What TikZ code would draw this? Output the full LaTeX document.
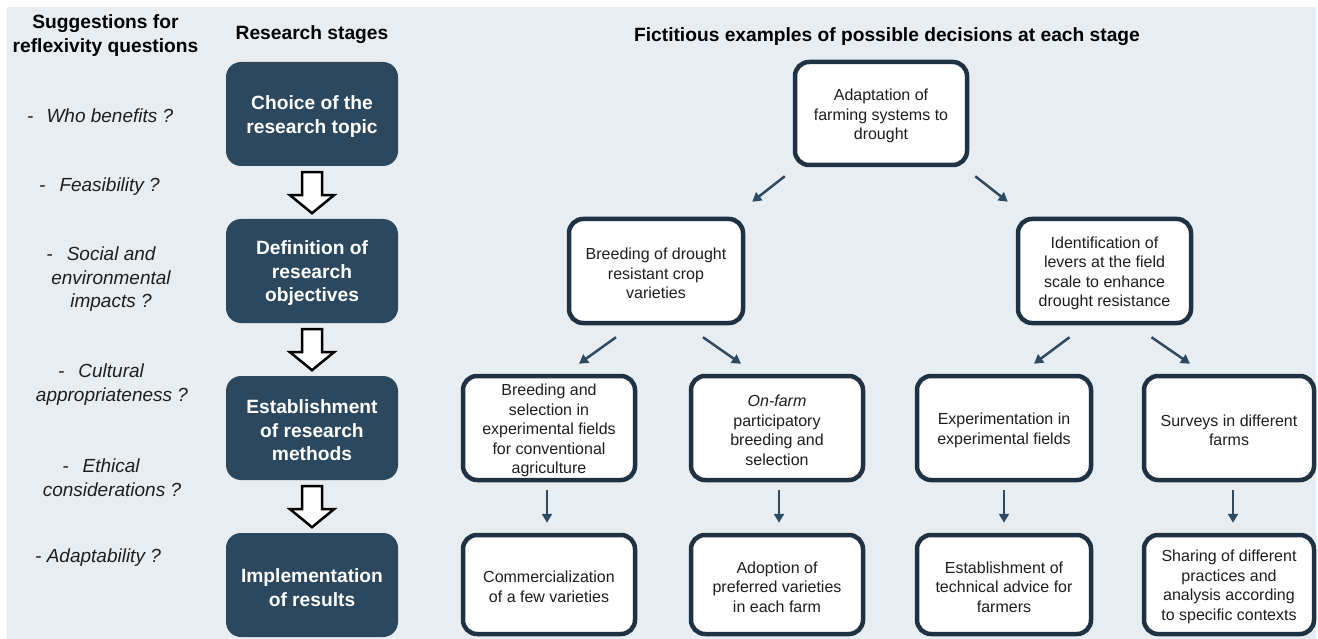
\documentclass[tikz,border=0pt]{standalone}
\usepackage{fontspec}
\setmainfont{Liberation Sans}
\usetikzlibrary{arrows.meta}
\definecolor{bgc}{RGB}{232,237,241}
\definecolor{navy}{RGB}{44,72,94}
\definecolor{edge}{RGB}{30,50,68}
\definecolor{arrc}{RGB}{46,75,99}
\definecolor{txt}{RGB}{30,30,30}
\newcommand\boxlabel[3]{\node[#1] (#2t) at ([shift={(0,2.5)}]#2.center) {#3};}
\begin{document}
\begin{tikzpicture}[x=1pt,y=-1pt,
  stagebox/.style={fill=navy, rounded corners=15pt, minimum width=172pt, minimum height=104pt, inner sep=0pt},
  stagetext/.style={align=center, text=white, inner sep=0pt, font=\fontsize{19.2}{23.5}\selectfont\bfseries},
  wbox/.style={draw=edge, fill=white, line width=4.5pt, rounded corners=14pt, minimum width=172pt, minimum height=103pt, inner sep=0pt},
  wtext/.style={align=center, text=txt, inner sep=0pt, font=\fontsize{16}{19.5}\selectfont},
  head/.style={align=center, font=\fontsize{19.2}{24}\selectfont\bfseries, text=black, inner sep=0pt},
  quest/.style={align=center, font=\fontsize{19}{23.5}\selectfont\itshape, text=txt, inner sep=0pt},
  conn/.style={draw=arrc, line width=2.5pt, -{Triangle[length=9pt,width=10pt]}},
  blockarr/.style={draw=black, fill=white, line width=2.5pt, line join=miter}
]
\useasboundingbox (0,0) rectangle (1318,639);
\fill[bgc] (7,7) rectangle (1316,639);

% headings
\node[head] (h1) at (105.5,36) {Suggestions for\\reflexivity questions};
\node[head] (h2) at (312,35) {Research stages};
\node[head] (h3) at (887,37) {Fictitious examples of possible decisions at each stage};

% questions
\node[quest, anchor=west] (q1) at (27,116) {-\hspace{13pt}Who benefits ?};
\node[quest, anchor=west] (q2) at (39,187) {-\hspace{14pt}Feasibility ?};
\node[quest] (q3) at (111,279.5) {-\hspace{14pt}Social and\hspace*{20pt}\\environmental\\impacts ?};
\node[quest] (q4) at (112,384.5) {-\hspace{14pt}Cultural\hspace*{22pt}\\appropriateness ?};
\node[quest] (q5) at (112,477.5) {-\hspace{14pt}Ethical\hspace*{22pt}\\considerations ?};
\node[quest, anchor=west] (q6) at (35,558) {- Adaptability ?};

% research stages
\node[stagebox] (s1) at (312,114) {};
\node[stagebox] (s2) at (312,271) {};
\node[stagebox] (s3) at (312,428) {};
\node[stagebox] (s4) at (312,585) {};
\boxlabel{stagetext}{s1}{Choice of the\\research topic}
\boxlabel{stagetext}{s2}{Definition of\\research\\objectives}
\boxlabel{stagetext}{s3}{Establishment\\of research\\methods}
\boxlabel{stagetext}{s4}{Implementation\\of results}

% block arrows between stages
\foreach \a/\b in {s1/s2, s2/s3, s3/s4}{
  \draw[blockarr] ([shift={(-10,6)}]\a.south) -- ++(0,23) -- ++(-12,0) -- ++(22,18) -- ++(22,-18) -- ++(-12,0) -- ++(0,-23) -- cycle;
}

% decision tree boxes
\node[wbox] (top) at (881,113.5) {};
\node[wbox, minimum width=174pt, minimum height=104pt] (b1) at (656,271) {};
\node[wbox, minimum width=173pt, minimum height=104pt] (b2) at (1104.5,271) {};
\node[wbox, minimum height=104pt] (c1) at (549,428) {};
\node[wbox, minimum height=104pt] (c2) at (777,428) {};
\node[wbox, minimum width=174pt, minimum height=104pt] (c3) at (1004,428) {};
\node[wbox, minimum width=170pt, minimum height=104pt] (c4) at (1229,428) {};
\node[wbox, minimum height=99pt] (d1) at (549,584.5) {};
\node[wbox, minimum height=99pt] (d2) at (777,584.5) {};
\node[wbox, minimum width=174pt, minimum height=99pt] (d3) at (1004,584.5) {};
\node[wbox, minimum width=170pt, minimum height=99pt] (d4) at (1229,584.5) {};

\boxlabel{wtext}{top}{Adaptation of\\farming systems to\\drought}
\boxlabel{wtext}{b1}{Breeding of drought\\resistant crop\\varieties}
\boxlabel{wtext}{b2}{Identification of\\levers at the field\\scale to enhance\\drought resistance}
\boxlabel{wtext}{c1}{Breeding and\\selection in\\experimental fields\\for conventional\\agriculture}
\boxlabel{wtext}{c2}{\textit{On-farm}\\participatory\\breeding and\\selection}
\boxlabel{wtext}{c3}{Experimentation in\\experimental fields}
\boxlabel{wtext}{c4}{Surveys in different\\farms}
\boxlabel{wtext}{d1}{Commercialization\\of a few varieties}
\boxlabel{wtext}{d2}{Adoption of\\preferred varieties\\in each farm}
\boxlabel{wtext}{d3}{Establishment of\\technical advice for\\farmers}
\boxlabel{wtext}{d4}{Sharing of different\\practices and\\analysis according\\to specific contexts}

% connectors
\draw[conn] ([shift={(-8,9)}]top.south west) -- ([shift={(7,-15)}]b1.north east);
\draw[conn] ([shift={(6,9)}]top.south east) -- ([shift={(-8,-15)}]b2.north west);

\draw[conn] ([shift={(-40,12)}]b1.south) -- ([shift={(30,-10)}]c1.north);
\draw[conn] ([shift={(47,12)}]b1.south) -- ([shift={(-36,-10)}]c2.north);
\draw[conn] ([shift={(-35,12)}]b2.south) -- ([shift={(30,-10)}]c3.north);
\draw[conn] ([shift={(47,12)}]b2.south) -- ([shift={(-39,-10)}]c4.north);

\draw[conn] ([shift={(-2,8)}]c1.south) -- ([shift={(-2,-10)}]d1.north);
\draw[conn] ([shift={(2,8)}]c2.south) -- ([shift={(2,-10)}]d2.north);
\draw[conn] ([shift={(0,8)}]c3.south) -- ([shift={(0,-10)}]d3.north);
\draw[conn] ([shift={(4,8)}]c4.south) -- ([shift={(4,-10)}]d4.north);
\end{tikzpicture}
\end{document}
